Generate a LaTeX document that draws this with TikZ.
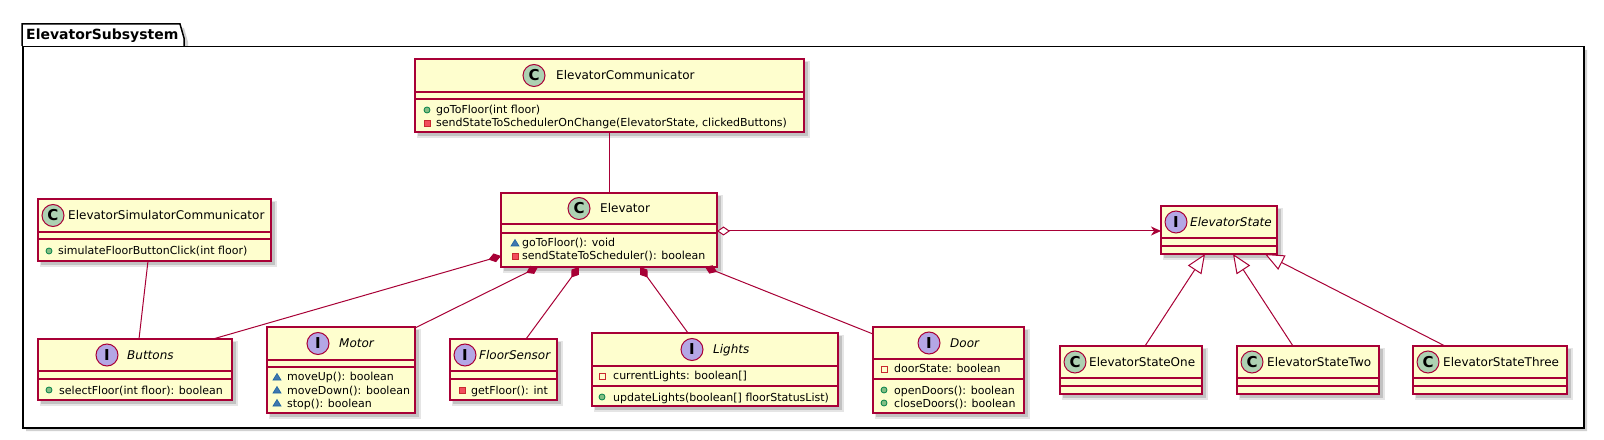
\documentclass[tikz,border=0pt]{standalone}
\usepackage{fontspec}
\setmainfont{DejaVu Sans}
\usetikzlibrary{arrows.meta,calc}
\definecolor{bord}{HTML}{A80036}
\definecolor{boxfill}{HTML}{FEFECE}
\definecolor{cfill}{HTML}{ADD1B2}
\definecolor{ifill}{HTML}{B4A7E5}
\definecolor{pubfill}{HTML}{84BE84}
\definecolor{pubbord}{HTML}{038048}
\definecolor{privfill}{HTML}{F24D5C}
\definecolor{privbord}{HTML}{C82930}
\definecolor{pkgfill}{HTML}{4177AF}
\definecolor{pkgbord}{HTML}{1963A0}
\tikzset{
 boxst/.style={draw=bord, fill=boxfill, line width=1.5bp, rectangle, inner sep=0, outer sep=0},
 link/.style={draw=bord, line width=1bp},
 titlef/.style={anchor=base west, inner sep=0, font=\fontsize{12bp}{14bp}\selectfont},
 ititlef/.style={anchor=base west, inner sep=0, font=\fontsize{12bp}{14bp}\selectfont\itshape},
 memf/.style={anchor=base west, inner sep=0, font=\fontsize{11bp}{13bp}\selectfont},
 stc/.style={circle, draw=bord, line width=1bp, fill=cfill, minimum size=22bp, inner sep=0, font=\fontsize{15bp}{15bp}\selectfont\bfseries},
 sti/.style={stc, fill=ifill},
 comp/.style={link, {Diamond[length=13bp,width=9bp]}-},
 inh/.style={link, -{Triangle[open, fill=white, length=19bp, width=16bp]}},
}
\newcommand\umlclass[7]{%
  \fill[black, opacity=0.10] (#2+2,#3+2) rectangle (#4+6,#5+6);
  \fill[black, opacity=0.15] (#2+3,#3+3) rectangle (#4+4,#5+4);
  \node[boxst, anchor=north west, minimum width={(#4-#2)*1bp}, minimum height={(#5-#3)*1bp}] (#1) at (#2,#3) {};
  \draw[bord, line width=1.5bp] (#2,#6) -- (#4,#6) (#2,#7) -- (#4,#7);
}
\newcommand\pubm[2]{\filldraw[fill=pubfill, draw=pubbord, line width=0.8bp] (#1,#2) circle (3bp);}
\newcommand\privm[2]{\filldraw[fill=privfill, draw=privbord, line width=0.8bp] (#1-3,#2-3) rectangle (#1+3,#2+3);}
\newcommand\privf[2]{\draw[privbord, line width=0.8bp] (#1-3,#2-3) rectangle (#1+3,#2+3);}
\newcommand\pkgm[2]{\filldraw[fill=pkgfill, draw=pkgbord, line width=0.6bp] (#1-4,#2+3) -- (#1+4,#2+3) -- (#1,#2-3.5) -- cycle;}
\begin{document}
\begin{tikzpicture}[x=1bp,y=-1bp]
\useasboundingbox (0,0) rectangle (1604,440);
% package
\fill[black, opacity=0.18] (26,28) -- (184,28) -- (188,42) -- (188,50) -- (1587,50) -- (1587,431) -- (26,431) -- cycle;
\filldraw[fill=white, draw=black, line width=1.5bp] (22,46) -- (22,24) -- (180,24) -- (184,38) -- (184,46);
\node[draw=black, fill=white, line width=1.5bp, anchor=north west, inner sep=0, minimum width=1561bp, minimum height=381bp] (pkg) at (22,46) {};
\node[anchor=base west, inner sep=0, font=\fontsize{14bp}{16bp}\selectfont\bfseries] (pkgT) at (26,40) {ElevatorSubsystem};

% classes
\umlclass{ec}{415}{59}{804}{132}{92}{99}
\node[stc] (ecC) at (534,75.5) {C};
\node[titlef] (ecT) at (556,80) {ElevatorCommunicator};
\pubm{427}{110}\node[memf] (ec1) at (436,114) {goToFloor(int floor)};
\privm{427}{123}\node[memf] (ec2) at (436,127) {sendStateToSchedulerOnChange(ElevatorState, clickedButtons)};

\umlclass{el}{501}{193}{717}{267}{224}{233}
\node[stc] (elC) at (579,208.5) {C};
\node[titlef] (elT) at (600,213) {Elevator};
\pkgm{515}{243}\node[memf] (el1) at (522,247) {goToFloor(): void};
\privm{515}{256}\node[memf] (el2) at (522,260) {sendStateToScheduler(): boolean};

\umlclass{esc}{38}{199}{271}{261}{232}{239}
\node[stc] (escC) at (53,215.5) {C};
\node[titlef] (escT) at (68,220) {ElevatorSimulatorCommunicator};
\pubm{49}{251}\node[memf] (esc1) at (58,255) {simulateFloorButtonClick(int floor)};

\umlclass{bt}{38}{339}{232}{400}{371}{379}
\node[sti] (btC) at (107,355) {I};
\node[ititlef] (btT) at (127,359.5) {Buttons};
\pubm{49}{390}\node[memf] (bt1) at (59,394) {selectFloor(int floor): boolean};

\umlclass{mo}{267}{327}{415}{413}{360}{367}
\node[sti] (moC) at (318,343.5) {I};
\node[ititlef] (moT) at (339,348) {Motor};
\pkgm{277}{377}\node[memf] (mo1) at (287,381) {moveUp(): boolean};
\pkgm{277}{390}\node[memf] (mo2) at (287,394) {moveDown(): boolean};
\pkgm{277}{403}\node[memf] (mo3) at (287,407) {stop(): boolean};

\umlclass{fs}{450}{339}{557}{400}{371}{379}
\node[sti] (fsC) at (465,355) {I};
\node[ititlef] (fsT) at (479,359.5) {FloorSensor};
\privm{462}{390}\node[memf] (fs1) at (471,394) {getFloor(): int};

\umlclass{li}{592}{333}{838}{406}{366}{386}
\node[sti] (liC) at (692,349.5) {I};
\node[ititlef] (liT) at (713,354) {Lights};
\privf{602}{376}\node[memf] (li1) at (613,380) {currentLights: boolean[]};
\pubm{602}{397}\node[memf] (li2) at (613,401) {updateLights(boolean[] floorStatusList)};

\umlclass{dr}{873}{327}{1024}{413}{359}{379}
\node[sti] (drC) at (929,343) {I};
\node[ititlef] (drT) at (950,347.5) {Door};
\privf{884}{369}\node[memf] (dr1) at (894,373) {doorState: boolean};
\pubm{884}{390}\node[memf] (dr2) at (894,394) {openDoors(): boolean};
\pubm{884}{403}\node[memf] (dr3) at (894,407) {closeDoors(): boolean};

\umlclass{es}{1161}{206}{1277}{254}{238}{246}
\node[sti] (esC) at (1176,222) {I};
\node[ititlef] (esT) at (1190,226.5) {ElevatorState};

\umlclass{s1}{1060}{346}{1202}{394}{378}{386}
\node[stc] (s1C) at (1075,362) {C};
\node[titlef] (s1T) at (1089,366.5) {ElevatorStateOne};

\umlclass{s2}{1237}{346}{1379}{394}{378}{386}
\node[stc] (s2C) at (1252,362) {C};
\node[titlef] (s2T) at (1267,366.5) {ElevatorStateTwo};

\umlclass{s3}{1413}{346}{1567}{394}{378}{386}
\node[stc] (s3C) at (1428,362) {C};
\node[titlef] (s3T) at (1443,366.5) {ElevatorStateThree};

% connection points
\coordinate (ecB) at (609,132);
\coordinate (elTop) at (609,193);
\coordinate (escB) at (148,261);
\coordinate (btTop) at (139,339);
\coordinate (elBt) at (501,256);
\coordinate (btTop2) at (213,339);
\coordinate (elMo) at (538,267);
\coordinate (moTR) at (415,328);
\coordinate (elFs) at (579,267);
\coordinate (fsTop) at (526,339);
\coordinate (elLi) at (640,267);
\coordinate (liTop) at (688,333);
\coordinate (elDr) at (705,267);
\coordinate (drTL) at (873,334);
\coordinate (elAgg) at (717,231);
\coordinate (esL) at (1161,231);
\coordinate (s1Top) at (1145,346);
\coordinate (s2Top) at (1293,346);
\coordinate (s3Top) at (1445,346);
\coordinate (esT1) at (1205,254);
\coordinate (esT2) at (1233,254);
\coordinate (esT3) at (1265,254);

% connectors
\draw[link] (ecB) -- (elTop);
\draw[link] (escB) -- (btTop);
\draw[comp] (elBt) -- (btTop2);
\draw[comp] (elMo) -- (moTR);
\draw[comp] (elFs) -- (fsTop);
\draw[comp] (elLi) -- (liTop);
\draw[comp] (elDr) -- (drTL);
\draw[link, {Diamond[open, fill=white, length=13bp, width=9bp]}-{Stealth[length=10bp, width=9bp, inset=3bp]}] (elAgg) -- (esL);
\draw[inh] (s1Top) -- (esT1);
\draw[inh] (s2Top) -- (esT2);
\draw[inh] (s3Top) -- (esT3);
\end{tikzpicture}
\end{document}
